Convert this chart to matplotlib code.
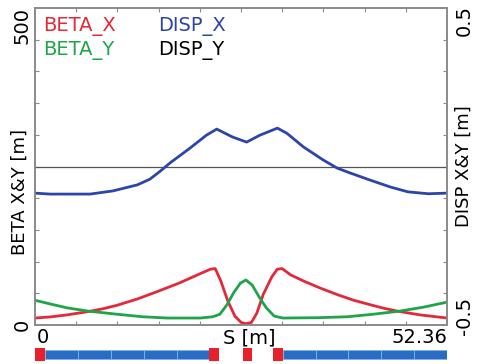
import numpy as np
from matplotlib import pyplot as plt

# lattice length [m]
L = 52.36

# optics (s in m)
s_bx = [0, 2.0, 4.1, 6.7, 8.6, 10.4, 13.0, 15.6, 18.3, 21.0, 22.3, 22.9, 23.6, 24.5, 25.4, 26.2,
        26.8, 27.5, 28.2, 29.0, 30.1, 30.8, 31.4, 32.5, 34.2, 36.3, 38.4, 40.5, 42.6, 44.3, 46.0,
        48.9, 52.36]
beta_x = [11, 12.8, 16, 21, 25.5, 31, 41, 53, 66, 81, 88, 89, 70, 38, 14, 4,
          2, 4, 19, 48, 76, 88, 89, 79, 69, 58, 48, 39, 32, 26.5, 22,
          16, 11]

s_by = [0, 2.0, 4.1, 6.7, 10.4, 13.7, 16.8, 21.0, 22.6, 23.5, 24.4, 25.2, 26.1, 26.8, 27.6, 28.5,
        29.4, 30.4, 31.5, 36.0, 39.7, 43.0, 46.4, 49.3, 52.36]
beta_y = [39, 33, 27, 22, 17, 13, 11, 11, 13, 17, 32, 50, 66, 71, 63, 44,
          27, 14, 11, 11.5, 13, 17, 22, 28, 36]

s_dx = [0, 1.9, 7.0, 9.9, 13.0, 14.6, 15.9, 17.2, 19.7, 21.8, 23.1, 25.1, 26.9, 28.6, 30.8,
        32.0, 34.1, 36.6, 38.4, 40.0, 42.6, 45.2, 47.4, 50.0, 52.36]
disp_x = [-0.084, -0.087, -0.087, -0.077, -0.058, -0.040, -0.015, 0.012, 0.058, 0.099, 0.118,
          0.093, 0.077, 0.099, 0.121, 0.105, 0.062, 0.021, -0.005, -0.020, -0.043, -0.065,
          -0.080, -0.086, -0.084]

s_dy = [0, L]
disp_y = [0, 0]

# lattice elements: start, length, kind
el_start = [0, 1.27, 5.45, 9.63, 13.81, 17.99, 22.17, 26.4, 30.2, 31.5, 35.67, 39.84, 44.01, 48.18]
el_len = [1.27, 4.18, 4.18, 4.18, 4.18, 4.18, 1.27, 1.2, 1.3, 4.17, 4.17, 4.17, 4.17, 4.18]
el_kind = ['Q', 'B', 'B', 'B', 'B', 'B', 'Q', 'Q', 'Q', 'B', 'B', 'B', 'B', 'B']

red = '#e4283a'
green = '#1fa44a'
blue = '#2d44a8'
grey = '#8a8a8a'

plt.rcParams['font.family'] = 'DejaVu Sans'

fig = plt.figure(figsize=(4.81, 3.64), dpi=100)
ax = fig.add_axes([35 / 481, 1 - 325 / 364, 412 / 481, 317 / 364])
ax2 = ax.twinx()

ax.plot(s_bx, beta_x, color=red, lw=2.0, solid_joinstyle='round')
ax.plot(s_by, beta_y, color=green, lw=2.0, solid_joinstyle='round')
ax2.plot(s_dy, disp_y, color='#555555', lw=0.9)
ax2.plot(s_dx, disp_x, color=blue, lw=2.0, solid_joinstyle='round')

ax.set_xlim(0, L)
ax.set_ylim(0, 500)
ax2.set_ylim(-0.5, 0.5)

ax.set_xticks(np.arange(1, 10) * L / 10)
ax.set_yticks(np.arange(50, 500, 50))
ax2.set_yticks(np.arange(-4, 5) / 10)
ax.set_xticklabels([])
ax.set_yticklabels([])
ax2.set_yticklabels([])
ax.tick_params(direction='in', length=3, width=0.8, color=grey, top=True)
ax2.tick_params(direction='in', length=3, width=0.8, color=grey)
for a in (ax, ax2):
    for sp in a.spines.values():
        sp.set_color(grey)
        sp.set_linewidth(1.2)

fs = 14
# legend-like labels
ax.text(8 / 412, 1 - 18 / 317, 'BETA_X', color=red, fontsize=fs, va='center', transform=ax.transAxes)
ax.text(8 / 412, 1 - 42 / 317, 'BETA_Y', color=green, fontsize=fs, va='center', transform=ax.transAxes)
ax.text(123 / 412, 1 - 18 / 317, 'DISP_X', color=blue, fontsize=fs, va='center', transform=ax.transAxes)
ax.text(123 / 412, 1 - 42 / 317, 'DISP_Y', color='k', fontsize=fs, va='center', transform=ax.transAxes)

# axis labels and end values
ax.text(-13 / 412, 1 + 1 / 317, '500', rotation=90, fontsize=fs, ha='center', va='top', transform=ax.transAxes)
ax.text(-13 / 412, 0, '0', rotation=90, fontsize=fs, ha='center', va='center', transform=ax.transAxes)
ax.text(-15 / 412, 0.42, 'BETA X&Y [m]', rotation=90, fontsize=fs - 1, ha='center', va='center',
        transform=ax.transAxes)
ax.text(1 + 17 / 412, 1 + 3 / 317, '0.5', rotation=90, fontsize=fs, ha='center', va='top', transform=ax.transAxes)
ax.text(1 + 17 / 412, 9 / 317, '-0.5', rotation=90, fontsize=fs, ha='center', va='center',
        transform=ax.transAxes)
ax.text(1 + 17 / 412, 0.50, 'DISP X&Y [m]', rotation=90, fontsize=fs - 1, ha='center', va='center',
        transform=ax.transAxes)
ax.text(0.005, -0.01, '0', fontsize=fs, ha='left', va='top', transform=ax.transAxes)
ax.text(1.0, -0.01, '52.36', fontsize=fs, ha='right', va='top', transform=ax.transAxes)
ax.text(0.519, -0.01, 'S [m]', fontsize=fs, ha='center', va='top', transform=ax.transAxes)

# lattice strip
axl = fig.add_axes([35 / 481, 1 - 361 / 364, 412 / 481, 13 / 364])
for x0, w, k in zip(el_start, el_len, el_kind):
    if k == 'Q':
        axl.bar(x0, 1.0, width=w, bottom=0, align='edge', color='#e8202a', edgecolor='none')
    else:
        axl.bar(x0, 0.72, width=w, bottom=0.14, align='edge', color='#2a6cc4',
                edgecolor='#7fb2e6', linewidth=0.6)
axl.set_xlim(0, L)
axl.set_ylim(0, 1)
axl.axis('off')

fig.savefig('out.png', dpi=100)
